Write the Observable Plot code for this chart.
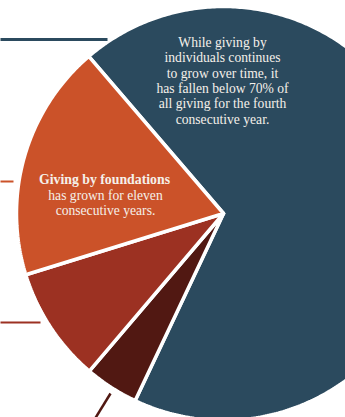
<!DOCTYPE html>
<html>
<head>
<meta charset="utf-8">
<script src="https://cdn.jsdelivr.net/npm/d3@7"></script>
<script src="https://cdn.jsdelivr.net/npm/@observablehq/plot@0.6"></script>
<style>
  html, body { margin: 0; padding: 0; background: #fff; overflow: hidden; }
  #chart svg { overflow: hidden; display: block; }
</style>
</head>
<body>
<div id="chart"></div>
<script>
// Data (shares of giving), clockwise order
const categories = ["Individuals", "Corporations", "Bequests", "Foundations"];
const shares = [68.3, 4.2, 9.0, 18.5];
const colors = ["#2b4a5e", "#511812", "#9c3122", "#cb5229"];
const annotations = [
  "While giving by\nindividuals continues\nto grow over time, it\nhas fallen below 70% of\nall giving for the fourth\nconsecutive year.",
  "Giving by foundations",
  "has grown for eleven\nconsecutive years."
];

const W = 345, H = 417;
const cx = 223, cy = 213, R = 207;
const startDeg = 319.4;

const total = d3.sum(shares);
let acc = startDeg * Math.PI / 180;
const polys = [];
categories.forEach((c, i) => {
  const a0 = acc, a1 = acc + shares[i] / total * 2 * Math.PI;
  acc = a1;
  const pts = [{name: c, x: cx, y: cy}];
  const n = Math.max(8, Math.ceil((a1 - a0) * 90));
  for (let k = 0; k <= n; k++) {
    const a = a0 + (a1 - a0) * k / n;
    pts.push({name: c, x: cx + R * Math.sin(a), y: cy - R * Math.cos(a)});
  }
  pts.push({name: c, x: cx, y: cy});
  polys.push({name: c, color: colors[i], pts});
});

const font = "'Liberation Serif', 'DejaVu Serif', serif";
const txt = "#f5f0ea";

const marks = [
  ...polys.map(p => Plot.line(p.pts, {x: "x", y: "y", fill: p.color, stroke: "white", strokeWidth: 3.5, strokeLinejoin: "miter", curve: "linear"})),
  // leader lines
  Plot.link([0], {x1: () => 0, y1: () => 39, x2: () => 107, y2: () => 39, stroke: colors[0], strokeWidth: 3}),
  Plot.link([0], {x1: () => 0, y1: () => 181, x2: () => 13, y2: () => 181, stroke: colors[3], strokeWidth: 2}),
  Plot.link([0], {x1: () => 0, y1: () => 322, x2: () => 40, y2: () => 322, stroke: colors[2], strokeWidth: 2}),
  Plot.link([0], {x1: () => 110, y1: () => 393, x2: () => 94, y2: () => 419, stroke: colors[1], strokeWidth: 2.5}),
  // annotations
  Plot.text([annotations[0]], {x: () => 222, y: () => 35.5, text: d => d, fill: txt, fontSize: 13.6, fontFamily: font, textAnchor: "middle", lineAnchor: "top", lineHeight: 1.13}),
  Plot.text([annotations[1]], {x: () => 104, y: () => 174, text: d => d, fill: txt, fontSize: 13.8, fontWeight: "bold", fontFamily: font, textAnchor: "middle", lineAnchor: "top"}),
  Plot.text([annotations[2]], {x: () => 105, y: () => 188.5, text: d => d, fill: txt, fontSize: 13.6, fontFamily: font, textAnchor: "middle", lineAnchor: "top", lineHeight: 1.13})
];

const chart = Plot.plot({
  width: W, height: H,
  margin: 0,
  x: {domain: [0, W], range: [0, W], axis: null},
  y: {domain: [0, H], range: [0, H], axis: null},
  style: {background: "white", overflow: "hidden"},
  marks
});
document.getElementById("chart").appendChild(chart);
</script>
</body>
</html>
